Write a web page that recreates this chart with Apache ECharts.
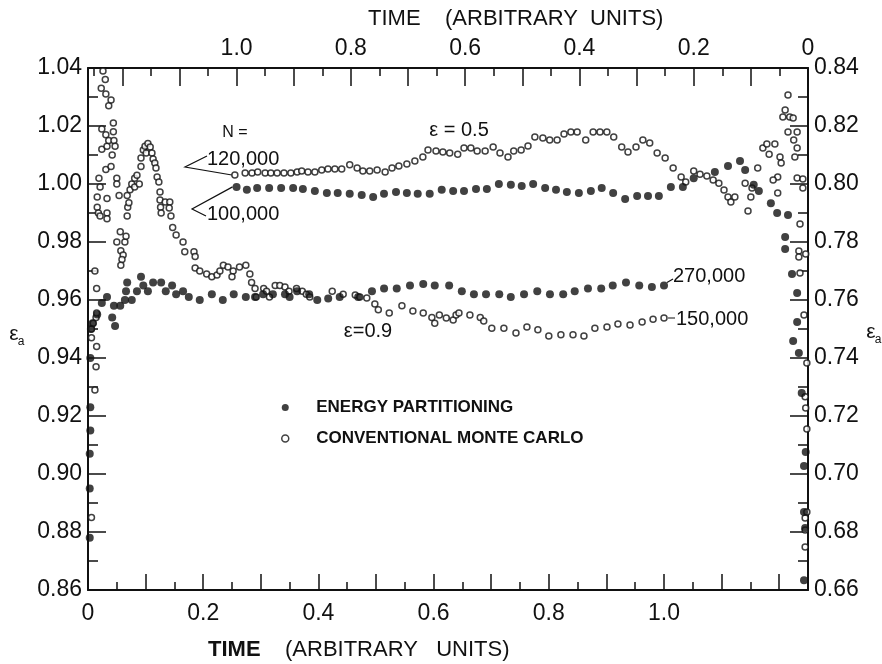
<!DOCTYPE html>
<html>
<head>
<meta charset="utf-8">
<script src="https://cdn.jsdelivr.net/npm/echarts@6.0.0/dist/echarts.min.js"></script>
<style>
html, body { margin: 0; padding: 0; background: #fff; }
#chart { width: 882px; height: 664px; }
</style>
</head>
<body>
<div id="chart"></div>
<script>
const FONT = '"Liberation Sans", Arial, sans-serif';
const INK = '#111';

// time tick labels, bottom axis runs 0 -> 1.0, top axis runs 1.0 -> 0
const timeLabels = [0, 0.2, 0.4, 0.6, 0.8, 1.0];

// eps = 0.9, energy partitioning (N = 270,000) -- bottom time / left eps_a
const eps09Full = [
  [0.003,0.878],[0.003,0.895],[0.003,0.907],[0.004,0.915],[0.004,0.923],[0.004,0.940],
  [0.005,0.950],[0.008,0.952],[0.016,0.955],[0.024,0.959],[0.033,0.961],[0.042,0.954],
  [0.047,0.951],[0.045,0.958],[0.056,0.958],[0.064,0.960],[0.066,0.963],[0.068,0.966],
  [0.076,0.960],[0.085,0.963],[0.092,0.968],[0.096,0.965],[0.104,0.963],[0.113,0.966],
  [0.127,0.966],[0.135,0.963],[0.146,0.965],[0.153,0.962],[0.165,0.963],[0.175,0.961],
  [0.194,0.960],[0.215,0.962],[0.234,0.960],[0.253,0.962],[0.274,0.961],[0.290,0.961],
  [0.304,0.962],[0.321,0.962],[0.342,0.962],[0.350,0.961],[0.363,0.963],[0.384,0.962],
  [0.398,0.960],[0.417,0.9605],[0.437,0.961],[0.469,0.961],[0.493,0.963],[0.514,0.964],
  [0.536,0.964],[0.559,0.965],[0.582,0.9655],[0.602,0.965],[0.627,0.965],[0.649,0.963],
  [0.670,0.962],[0.691,0.962],[0.714,0.962],[0.734,0.961],[0.757,0.962],[0.780,0.963],
  [0.802,0.962],[0.825,0.962],[0.845,0.963],[0.868,0.964],[0.891,0.964],[0.911,0.965],
  [0.934,0.966],[0.957,0.965],[0.979,0.9645],[1.0,0.965]
];

// eps = 0.9, conventional Monte Carlo (N = 150,000)
const eps09Open = [
  [0.006,0.885],[0.012,0.929],[0.014,0.937],[0.015,0.944],[0.006,0.947],[0.006,0.950],
  [0.009,0.952],[0.014,0.954],[0.015,0.9555],[0.015,0.964],[0.012,0.970],[0.016,0.9955],
  [0.016,0.992],[0.018,0.990],[0.019,1.002],[0.021,0.999],[0.021,0.989],[0.023,1.033],
  [0.024,1.019],[0.024,1.012],[0.026,1.039],[0.030,1.036],[0.031,1.031],[0.031,1.017],
  [0.031,1.005],[0.033,1.013],[0.033,0.995],[0.033,0.990],[0.033,0.988],[0.036,1.027],
  [0.036,1.015],[0.040,1.029],[0.040,1.006],[0.042,1.010],[0.044,1.021],[0.044,1.018],
  [0.045,1.015],[0.047,1.013],[0.050,1.002],[0.050,1.000],[0.054,0.996],[0.050,0.980],
  [0.056,0.9835],[0.057,0.977],[0.061,0.9755],[0.059,0.974],[0.057,0.972],[0.064,0.980],
  [0.066,0.982],[0.068,0.989],[0.069,0.992],[0.071,0.9935],[0.068,0.996],[0.073,0.998],
  [0.076,1.000],[0.081,0.999],[0.081,1.002],[0.089,1.000],[0.085,1.003],[0.092,1.006],
  [0.092,1.009],[0.096,1.0117],[0.099,1.013],[0.104,1.014],[0.108,1.0128],[0.101,1.0107],
  [0.111,1.0107],[0.113,1.0086],[0.116,1.0072],[0.118,1.0055],[0.120,1.0024],[0.123,1.0007],
  [0.125,0.9972],[0.125,0.9945],[0.126,0.992],[0.127,0.990],[0.134,0.9938],[0.142,0.9938],
  [0.141,0.9917],[0.144,0.989],[0.147,0.985],[0.153,0.9824],[0.165,0.980],[0.168,0.9766],
  [0.184,0.9766],[0.186,0.975],[0.186,0.971],[0.194,0.970],[0.206,0.969],[0.215,0.968],
  [0.224,0.9686],[0.229,0.970],[0.235,0.972],[0.243,0.9714],[0.252,0.970],[0.250,0.968],
  [0.263,0.9714],[0.274,0.972],[0.281,0.969],[0.284,0.966],[0.290,0.964],[0.292,0.961],
  [0.305,0.964],[0.310,0.963],[0.315,0.961],[0.325,0.965],[0.333,0.965],[0.342,0.9645],
  [0.349,0.963],[0.362,0.964],[0.372,0.963],[0.379,0.962],[0.385,0.961],[0.424,0.963],
  [0.443,0.962],[0.464,0.9617],[0.472,0.961],[0.484,0.9607],[0.498,0.9586],[0.504,0.9566],
  [0.523,0.9555],[0.545,0.958],[0.564,0.9562],[0.582,0.9555],[0.597,0.954],[0.602,0.952],
  [0.610,0.9548],[0.622,0.9538],[0.634,0.9531],[0.639,0.9548],[0.644,0.9555],[0.663,0.9548],
  [0.681,0.954],[0.687,0.9528],[0.701,0.9503],[0.722,0.9503],[0.743,0.9486],[0.762,0.9507],
  [0.781,0.9497],[0.800,0.9476],[0.821,0.948],[0.842,0.948],[0.861,0.9476],[0.880,0.9503],
  [0.901,0.9507],[0.920,0.9517],[0.941,0.9514],[0.962,0.9524],[0.981,0.9534],[1.0,0.9538]
];

// eps = 0.5, energy partitioning (N = 100,000) -- top time / right eps_a
const eps05Full = [
  [1.000,0.799],[0.982,0.798],[0.964,0.7986],[0.943,0.7986],[0.922,0.7986],[0.901,0.7986],
  [0.884,0.7983],[0.863,0.7976],[0.842,0.7969],[0.823,0.7969],[0.802,0.7966],[0.781,0.7962],
  [0.761,0.7955],[0.742,0.7966],[0.721,0.7972],[0.702,0.7969],[0.683,0.7966],[0.662,0.7966],
  [0.641,0.798],[0.621,0.7976],[0.602,0.7976],[0.581,0.7983],[0.562,0.7983],[0.541,0.800],
  [0.520,0.7997],[0.501,0.7993],[0.481,0.800],[0.460,0.7986],[0.441,0.798],[0.422,0.7972],
  [0.401,0.7969],[0.380,0.7976],[0.361,0.7986],[0.341,0.7969],[0.320,0.7948],[0.299,0.7959],
  [0.280,0.7959],[0.261,0.7959],[0.240,0.799],[0.219,0.799],[0.200,0.802],[0.163,0.8041],
  [0.140,0.8062],[0.119,0.8079],[0.110,0.8048],[0.095,0.7997],[0.086,0.7976],[0.065,0.7934],
  [0.054,0.790],[0.035,0.7893],[0.040,0.7817],[0.040,0.7776],[0.028,0.769],[0.019,0.7624],
  [0.019,0.7524],[0.026,0.7459],[0.016,0.7417],[0.011,0.7279],[0.004,0.7076],[0.007,0.7028],
  [0.007,0.6869],[0.005,0.6814],[0.007,0.6634]
];

// eps = 0.5, conventional Monte Carlo (N = 120,000)
const eps05Open = [
  [1.003,0.8031],[0.985,0.8038],[0.973,0.8038],[0.963,0.8041],[0.950,0.8038],[0.940,0.8038],
  [0.929,0.8038],[0.917,0.8038],[0.905,0.8038],[0.894,0.8041],[0.886,0.8045],[0.875,0.8041],
  [0.863,0.8041],[0.851,0.8048],[0.840,0.8052],[0.828,0.8052],[0.816,0.8052],[0.802,0.8066],
  [0.789,0.8055],[0.779,0.8045],[0.767,0.8045],[0.754,0.8048],[0.740,0.8041],[0.728,0.8055],
  [0.716,0.8062],[0.702,0.8069],[0.688,0.8079],[0.674,0.8093],[0.665,0.8117],[0.651,0.8114],
  [0.639,0.811],[0.627,0.8107],[0.613,0.8103],[0.602,0.8124],[0.590,0.8124],[0.579,0.8114],
  [0.565,0.8114],[0.551,0.8128],[0.539,0.8107],[0.525,0.8093],[0.515,0.8114],[0.502,0.8117],
  [0.490,0.8131],[0.478,0.8162],[0.464,0.8159],[0.452,0.8152],[0.439,0.8152],[0.427,0.8172],
  [0.415,0.8179],[0.404,0.8179],[0.389,0.8152],[0.376,0.8179],[0.364,0.8179],[0.352,0.8179],
  [0.340,0.8162],[0.326,0.8128],[0.315,0.811],[0.301,0.8128],[0.289,0.8152],[0.277,0.8141],
  [0.264,0.8107],[0.250,0.809],[0.236,0.8055],[0.222,0.8024],[0.214,0.8007],[0.200,0.8045],
  [0.189,0.8034],[0.177,0.8028],[0.166,0.8014],[0.156,0.8003],[0.147,0.7979],[0.140,0.7955],
  [0.135,0.7938],[0.128,0.7955],[0.110,0.8003],[0.105,0.7907],[0.100,0.7955],[0.098,0.7986],
  [0.088,0.8055],[0.079,0.8124],[0.072,0.8138],[0.068,0.8103],[0.058,0.8138],[0.049,0.8093],
  [0.047,0.8072],[0.053,0.8024],[0.061,0.8014],[0.053,0.7969],[0.035,0.8307],[0.040,0.8255],
  [0.044,0.8231],[0.032,0.8231],[0.026,0.8228],[0.035,0.8179],[0.019,0.8179],[0.025,0.8152],
  [0.019,0.8124],[0.023,0.8093],[0.019,0.8021],[0.009,0.8017],[0.009,0.7986],[0.014,0.7862],
  [0.016,0.7769],[0.016,0.7748],[0.014,0.7693],[0.004,0.7759],[0.007,0.7548],[0.002,0.7383],
  [0.005,0.7266],[0.004,0.7228],[0.002,0.7155],[0.002,0.6869],[0.005,0.6848],[0.005,0.6807],
  [0.005,0.6748]
];

function timeLabel(v) {
  for (const t of timeLabels) {
    if (Math.abs(v - t) < 1e-6) return t === 0 ? '0' : t.toFixed(1);
  }
  return '';
}

const axisLine = { lineStyle: { color: INK, width: 2 } };
const labelStyle = { color: INK, fontFamily: FONT, fontSize: 23 };

// two axes per side: short ticks every 0.05, tall ones every 0.1
function timeAxis(pos, max, inverse, step, len, showLabel) {
  return {
    type: 'value', position: pos, min: 0, max: max, interval: step, inverse: inverse,
    axisLine: showLabel ? axisLine : { show: false },
    axisTick: { inside: true, length: len, lineStyle: { color: INK, width: 1.5 } },
    axisLabel: showLabel ? Object.assign({ formatter: timeLabel, margin: pos === 'top' ? 8 : 12 }, labelStyle) : { show: false },
    splitLine: { show: false }
  };
}

function epsAxis(pos, min, max) {
  return {
    type: 'value', position: pos, min: min, max: max, interval: 0.02,
    axisLine: axisLine,
    axisTick: { inside: true, length: 18, lineStyle: { color: INK, width: 1.5 } },
    minorTick: { show: true, splitNumber: 2, length: 10, lineStyle: { color: INK, width: 1.5 } },
    axisLabel: Object.assign({ formatter: v => v.toFixed(2), margin: 6 }, labelStyle),
    splitLine: { show: false }
  };
}

const openStyle = { color: '#fff', borderColor: INK, borderWidth: 1.5 };
const fullStyle = { color: INK };

const chart = echarts.init(document.getElementById('chart'));
chart.setOption({
  animation: false,
  backgroundColor: '#fff',
  grid: { left: 88, right: 74, top: 68, bottom: 74 },
  xAxis: [
    timeAxis('bottom', 1.25, false, 0.05, 8, true),
    timeAxis('top', 1.26, true, 0.05, 8, true),
    timeAxis('bottom', 1.25, false, 0.1, 16, false),
    timeAxis('top', 1.26, true, 0.1, 18, false)
  ],
  yAxis: [
    epsAxis('left', 0.86, 1.04),
    epsAxis('right', 0.66, 0.84)
  ],
  legend: {
    orient: 'vertical', left: 276, top: 394, itemWidth: 52, itemHeight: 7, itemGap: 14,
    selectedMode: false,
    textStyle: { color: INK, fontFamily: FONT, fontSize: 17, fontWeight: 'bold' },
    data: [
      { name: 'ENERGY PARTITIONING', itemStyle: fullStyle },
      { name: 'CONVENTIONAL MONTE CARLO', itemStyle: openStyle }
    ]
  },
  series: [
    { name: 'CONVENTIONAL MONTE CARLO', type: 'scatter', xAxisIndex: 0, yAxisIndex: 0,
      symbol: 'circle', symbolSize: 6, itemStyle: openStyle, silent: true, data: eps09Open },
    { name: 'CONVENTIONAL MONTE CARLO', type: 'scatter', xAxisIndex: 1, yAxisIndex: 1,
      symbol: 'circle', symbolSize: 6, itemStyle: openStyle, silent: true, data: eps05Open },
    { name: 'ENERGY PARTITIONING', type: 'scatter', xAxisIndex: 0, yAxisIndex: 0,
      symbol: 'circle', symbolSize: 8, itemStyle: fullStyle, silent: true, data: eps09Full },
    { name: 'ENERGY PARTITIONING', type: 'scatter', xAxisIndex: 1, yAxisIndex: 1,
      symbol: 'circle', symbolSize: 8, itemStyle: fullStyle, silent: true, data: eps05Full }
  ]
});

// annotations: run labels with leader lines to the end points of each run
const px = (si, pt) => chart.convertToPixel({ seriesIndex: si }, pt);
const p120 = px(1, eps05Open[0]);
const p100 = px(3, eps05Full[0]);
const p150 = px(0, eps09Open[eps09Open.length - 1]);
const p270 = px(2, eps09Full[eps09Full.length - 1]);

function txt(x, y, text, size, align, extra) {
  return { type: 'text', x: x, y: y, silent: true,
    style: Object.assign({ text: text, fill: INK, fontFamily: FONT, fontSize: size,
      align: align || 'left', verticalAlign: 'middle' }, extra || {}) };
}
function leader(points) {
  return { type: 'polyline', silent: true, shape: { points: points },
    style: { stroke: INK, lineWidth: 1.2, fill: null } };
}

chart.setOption({
  graphic: [
    txt(368, 19, 'TIME    (ARBITRARY  UNITS)', 22),
    txt(208, 650, '{b|TIME}    (ARBITRARY   UNITS)', 22, 'left',
      { rich: { b: { fontWeight: 'bold', fontSize: 22, fontFamily: FONT, fill: INK } } }),
    txt(14, 334, 'ε', 21, 'center'),
    txt(21, 342, 'a', 12, 'center'),
    txt(871, 332, 'ε', 21, 'center'),
    txt(878, 340, 'a', 12, 'center'),
    txt(235, 133, 'N =', 16, 'center'),
    txt(207, 159, '120,000', 20),
    txt(207, 214, '100,000', 20),
    txt(459, 130, 'ε = 0.5', 20, 'center'),
    txt(368, 331, 'ε=0.9', 20, 'center'),
    txt(673, 276, '270,000', 20),
    txt(676, 319, '150,000', 20),
    leader([[207, 156], [185, 167], [p120[0] - 3, p120[1]]]),
    leader([[p100[0] - 4, p100[1]], [192, 209], [206, 216]]),
    leader([[p270[0] + 3, p270[1] - 3], [673, 279]]),
    leader([[p150[0] + 4, p150[1]], [675, 318]])
  ]
});
</script>
</body>
</html>
